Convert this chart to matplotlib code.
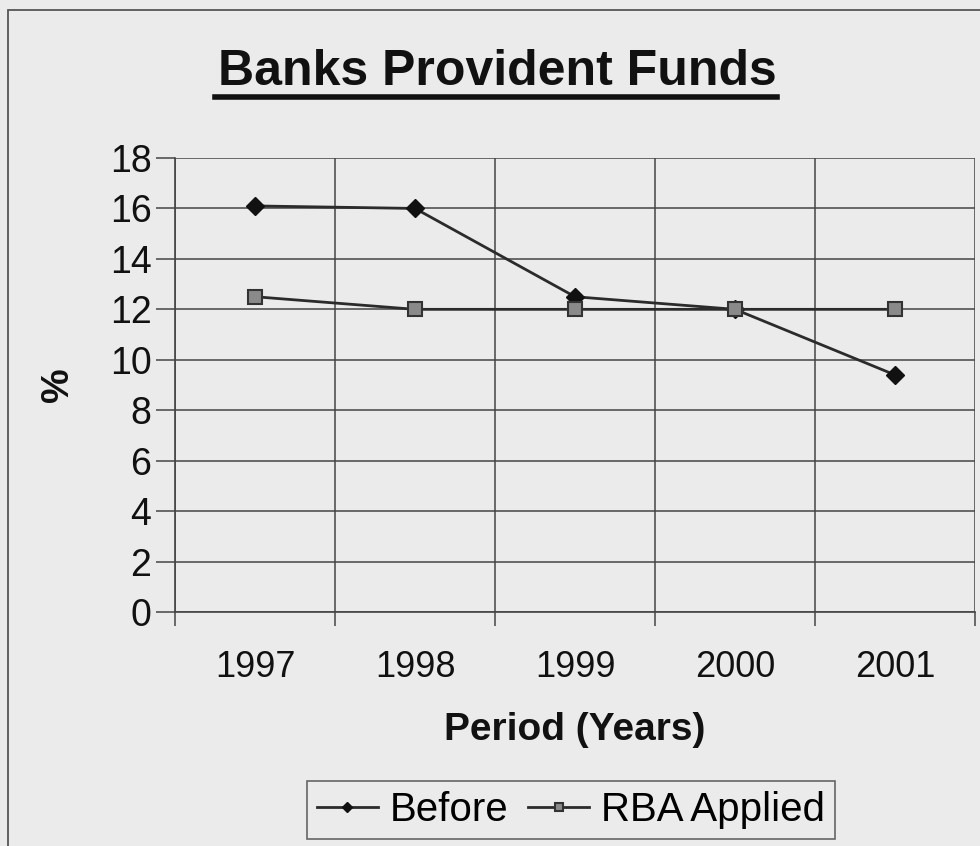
import matplotlib
matplotlib.use('Agg')
import matplotlib.pyplot as plt
from matplotlib.patches import Rectangle

# dane
years = ['1997', '1998', '1999', '2000', '2001']
before = [16.1, 16.0, 12.5, 12.0, 9.4]
rba_applied = [12.5, 12.0, 12.0, 12.0, 12.0]
y_ticks = [0, 2, 4, 6, 8, 10, 12, 14, 16, 18]

plt.rcParams['font.family'] = ['Liberation Sans', 'DejaVu Sans']

bg = '#ebebeb'
ink = '#2b2b2b'

fig = plt.figure(figsize=(9.8, 8.46), dpi=100, facecolor=bg)

# ramka wykresu
fig.patches.append(Rectangle((8 / 980, -0.01), 1.0, 1 - 10 / 846 + 0.01,
                             transform=fig.transFigure, fill=False,
                             edgecolor='#555555', linewidth=1.3))

ax = fig.add_axes([175 / 980, 1 - 612 / 846, 800 / 980, 454 / 846])
ax.set_facecolor(bg)

x = range(len(years))
ax.plot(x, before, color=ink, linewidth=2, marker='D', markersize=9,
        markerfacecolor='#111111', markeredgecolor='#111111', label='Before')
ax.plot(x, rba_applied, color=ink, linewidth=2, marker='s', markersize=10,
        markerfacecolor='#8a8a8a', markeredgecolor='#333333',
        markeredgewidth=1.5, label='RBA Applied')

ax.set_xlim(-0.5, len(years) - 0.5)
ax.set_ylim(0, 18)
ax.set_yticks(y_ticks)
ax.set_xticks(list(x))
ax.set_xticklabels(years)
ax.set_xticks([i - 0.5 for i in range(len(years) + 1)], minor=True)

ax.grid(True, which='major', axis='y', color='#444444', linewidth=1.1)
ax.grid(True, which='minor', axis='x', color='#444444', linewidth=1.1)
ax.tick_params(axis='x', which='major', length=0, labelsize=26, pad=27,
               colors='#111111')
ax.tick_params(axis='x', which='minor', length=10, width=1.1, color='#444444')
ax.tick_params(axis='y', length=14, width=1.1, color='#444444',
               labelsize=27, pad=3, labelcolor='#111111')

for s in ['top', 'right']:
    ax.spines[s].set_visible(False)
for s in ['left', 'bottom']:
    ax.spines[s].set_color('#444444')
    ax.spines[s].set_linewidth(1.2)

ax.set_ylabel('%', fontsize=28, fontweight='bold', labelpad=24, color='#111111')
ax.set_xlabel('Period (Years)', fontsize=28, fontweight='bold', labelpad=20,
              color='#111111')

# tytuł z podkreśleniem
fig.text(497 / 980, 1 - 72 / 846, 'Banks Provident Funds', ha='center',
         va='center', fontsize=36, fontweight='bold', color='#111111')
fig.add_artist(plt.Line2D([215 / 980, 777 / 980], [1 - 97 / 846, 1 - 97 / 846],
                          color='#111111', linewidth=4,
                          transform=fig.transFigure))

leg = fig.legend(loc='center', bbox_to_anchor=(571 / 980, 1 - 810 / 846),
                 ncol=2, fontsize=29, frameon=True, fancybox=False,
                 handlelength=1.5, handletextpad=0.3, columnspacing=0.5,
                 borderpad=0.25, markerscale=0.6)
leg.get_frame().set_edgecolor('#444444')
leg.get_frame().set_facecolor(bg)
leg.get_frame().set_linewidth(1.2)

fig.savefig('out.png', dpi=100, facecolor=bg)
